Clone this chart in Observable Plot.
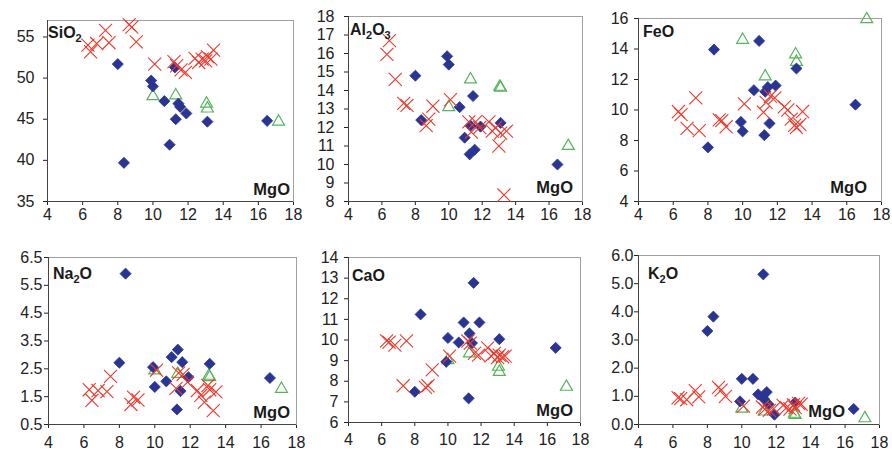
<!DOCTYPE html>
<html><head><meta charset="utf-8">
<script src="https://cdn.jsdelivr.net/npm/d3@7"></script>
<script src="https://cdn.jsdelivr.net/npm/@observablehq/plot@0.6"></script>
<style>
html,body{margin:0;padding:0;background:#fff;}
#wrap{position:relative;width:892px;height:450px;overflow:hidden;font-family:"Liberation Sans",Arial,sans-serif;}
.panel{position:absolute;}
</style></head><body><div id="wrap"></div>
<script>
// ---------- data ----------
const xTicks = [4, 6, 8, 10, 12, 14, 16, 18];

const blueMgO  = [8.0, 8.35, 9.9, 10.0, 10.65, 10.95, 11.25, 11.3, 11.45, 11.55, 11.9, 13.1, 16.5];
const blueSiO2 = [51.7, 39.7, 49.7, 49.0, 47.2, 41.9, 51.3, 45.0, 46.9, 46.5, 45.7, 44.7, 44.8];
const blueAl2O3= [14.8, 12.4, 15.85, 15.4, 13.1, 11.45, 10.55, 12.1, 13.7, 10.8, 12.05, 12.25, 10.0];
const blueFeO  = [7.55, 13.96, 9.22, 8.6, 11.3, 14.53, 8.35, 11.2, 11.5, 9.12, 11.6, 12.72, 10.35];
const blueNa2O = [2.72, 5.92, 2.56, 1.85, 2.05, 2.92, 1.04, 3.19, 1.7, 2.74, 2.2, 2.68, 2.17];
const blueCaO  = [7.49, 11.24, 8.94, 10.1, 9.88, 10.85, 7.17, 10.32, 9.85, 12.77, 10.85, 10.04, 9.62];
const blueK2O  = [3.32, 3.83, 0.82, 1.62, 1.62, 1.07, 5.33, 0.9, 1.15, 0.72, 0.35, 0.78, 0.55];

const redMgO   = [6.3, 6.45, 6.8, 7.3, 7.5, 8.65, 8.8, 9.05, 10.1, 11.2, 11.35, 11.6, 11.85, 12.4, 12.6, 12.8, 13.0, 13.1, 13.3, 13.45];
const redSiO2  = [54.0, 53.2, 54.2, 55.8, 54.3, 56.5, 56.2, 54.4, 51.7, 52.0, 51.5, 51.0, 50.7, 52.4, 51.9, 52.3, 52.1, 52.6, 52.3, 53.4];
const redAl2O3 = [15.95, 16.7, 14.6, 13.3, 13.2, 12.1, 12.45, 13.15, 13.5, 12.3, 11.75, 12.3, 12.0, 12.3, 11.8, 12.0, 11.0, 11.7, 8.35, 11.8];
const redFeO   = [9.9, 9.7, 8.8, 10.8, 8.65, 9.35, 9.3, 8.9, 10.4, 9.85, 10.5, 10.9, 10.8, 10.2, 10.0, 9.4, 9.0, 8.85, 9.05, 9.9];
const redNa2O  = [1.75, 1.37, 1.72, 1.68, 2.23, 1.22, 1.48, 1.38, 2.45, 1.8, 2.35, 2.3, 2.02, 1.72, 1.55, 1.3, 1.9, 1.75, 1.0, 1.67];
const redCaO   = [9.96, 9.9, 9.75, 7.78, 9.96, 7.7, 7.78, 8.55, 9.22, 9.95, 9.85, 9.35, 9.27, 9.62, 9.23, 9.35, 9.15, 9.27, 9.19, 9.22];
const redK2O   = [0.95, 0.92, 0.88, 1.2, 0.98, 1.32, 1.22, 1.0, 0.65, 0.62, 0.55, 0.5, 0.56, 0.68, 0.6, 0.55, 0.7, 0.6, 0.75, 0.72];

const greenMgO  = [10.0, 11.3, 13.05, 13.1, 17.15];
const greenSiO2 = [47.8, 47.9, 46.9, 46.3, 44.7];
const greenAl2O3= [13.1, 14.6, 14.2, 14.15, 11.0];
const greenFeO  = [14.6, 12.2, 13.65, 13.15, 15.95];
const greenNa2O = [2.44, 2.32, 2.25, 2.2, 1.78];
const greenCaO  = [9.02, 9.35, 8.7, 8.45, 7.73];
const greenK2O  = [0.56, 0.46, 0.38, 0.34, 0.22];

const ticksSiO2 = [35, 40, 45, 50, 55];
const ticksAl2O3 = [8, 9, 10, 11, 12, 13, 14, 15, 16, 17, 18];
const ticksFeO = [4, 6, 8, 10, 12, 14, 16];
const ticksNa2O = [0.5, 1.5, 2.5, 3.5, 4.5, 5.5, 6.5];
const ticksCaO = [6, 7, 8, 9, 10, 11, 12, 13, 14];
const ticksK2O = [0, 1, 2, 3, 4, 5, 6];

// ---------- panels ----------
const panels = [
  {name:[["Si"],["O"],["2",1]], blue:blueSiO2, red:redSiO2, green:greenSiO2, dom:[35,57], ticks:ticksSiO2, fmt:null,
   left:0, top:0, w:297, h:225, ml:47, mr:4, mt:20, mb:24, ypad:9, xpad:3, lx:48, ly:38, mx:290, my:195},
  {name:[["Al"],["2",1],["O"],["3",1]], blue:blueAl2O3, red:redAl2O3, green:greenAl2O3, dom:[8,18], ticks:ticksAl2O3, fmt:null,
   left:297, top:0, w:297, h:225, ml:51, mr:12, mt:16, mb:24, ypad:10, xpad:3, lx:53, ly:35, mx:276, my:193},
  {name:[["FeO"]], blue:blueFeO, red:redFeO, green:greenFeO, dom:[4,16], ticks:ticksFeO, fmt:null,
   left:594, top:0, w:298, h:225, ml:44, mr:11, mt:18, mb:24, ypad:6, xpad:3, lx:49, ly:37, mx:273, my:193},
  {name:[["Na"],["2",1],["O"]], blue:blueNa2O, red:redNa2O, green:greenNa2O, dom:[0.5,6.5], ticks:ticksNa2O, fmt:null,
   left:0, top:225, w:297, h:225, ml:48, mr:1, mt:32, mb:26, ypad:2, xpad:8, lx:53, ly:54, mx:290, my:193},
  {name:[["CaO"]], blue:blueCaO, red:redCaO, green:greenCaO, dom:[6,14], ticks:ticksCaO, fmt:null,
   left:297, top:225, w:297, h:225, ml:51, mr:14, mt:32, mb:28, ypad:6, xpad:7, lx:55, ly:56, mx:276, my:191},
  {name:[["K"],["2",1],["O"]], blue:blueK2O, red:redK2O, green:greenK2O, dom:[0,6], ticks:ticksK2O, fmt:d3.format(".1f"),
   left:594, top:225, w:298, h:225, ml:44, mr:13, mt:30, mb:26, ypad:1, xpad:8, lx:54, ly:54, mx:251, my:192}
];

const pts = (xs, ys) => xs.map((x, i) => ({x, y: ys[i]}));
const wrap = document.getElementById("wrap");

for (const p of panels) {
  const fig = Plot.plot({
    width: p.w, height: p.h,
    marginLeft: p.ml, marginRight: p.mr, marginTop: p.mt, marginBottom: p.mb,
    style: {fontFamily: '"Liberation Sans", Arial, sans-serif', fontSize: "16px", color: "#222", background: "transparent", overflow: "visible"},
    x: {domain: [4, 18], ticks: xTicks, tickSize: 4, tickPadding: p.xpad, label: null},
    y: {domain: p.dom, ticks: p.ticks, tickSize: 4, tickPadding: p.ypad, label: null, tickFormat: p.fmt ?? undefined},
    marks: [
      Plot.frame({stroke: "#a0a0a0"}),
      Plot.ruleX([4], {stroke: "#444"}),
      Plot.ruleY([p.dom[0]], {stroke: "#444"}),
      Plot.dot(pts(greenMgO, p.green), {x: "x", y: "y", symbol: "triangle2", stroke: "#56b45a", fill: "none", r: 5.7, strokeWidth: 1.2}),
      Plot.dot(pts(blueMgO, p.blue), {x: "x", y: "y", symbol: "diamond2", fill: "#2a3593", stroke: "#2a3593", strokeWidth: 0.8, r: 5}),
      Plot.dot(pts(redMgO, p.red), {x: "x", y: "y", symbol: "times", stroke: "#ee3a2e", strokeWidth: 1.1, r: 6})
    ]
  });
  const div = document.createElement("div");
  div.className = "panel";
  div.style.left = p.left + "px";
  div.style.top = p.top + "px";
  div.appendChild(fig);
  wrap.appendChild(div);

  const svg = d3.select(fig);
  const t = svg.append("text").attr("x", p.lx).attr("y", p.ly).attr("text-anchor", "start")
    .attr("font-weight", "bold").attr("font-size", 16).attr("fill", "#1a1a1a")
    .attr("font-family", '"Liberation Sans", Arial, sans-serif');
  let shifted = false;
  for (const [s, sub] of p.name) {
    const ts = t.append("tspan").text(s);
    if (sub) { ts.attr("font-size", 11).attr("dy", shifted ? 0 : 4); shifted = true; }
    else if (shifted) { ts.attr("dy", -4); shifted = false; }
  }
  svg.append("text").attr("x", p.mx).attr("y", p.my).attr("text-anchor", "end")
    .attr("font-weight", "bold").attr("font-size", 16.5).attr("fill", "#1a1a1a")
    .attr("font-family", '"Liberation Sans", Arial, sans-serif')
    .text("MgO");
}
</script></body></html>
